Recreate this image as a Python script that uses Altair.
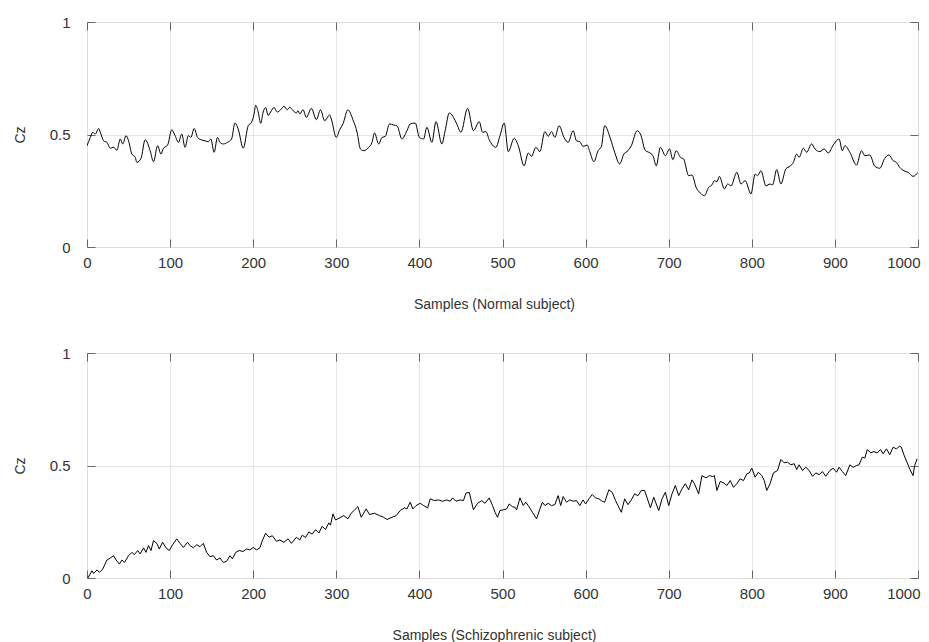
import altair as alt
import pandas as pd

# ---- Normal subject (top panel): sample index and Cz amplitude
normal_sample = [0, 4, 7, 10, 14, 16, 20, 24, 28, 32, 36, 40, 43, 47, 50, 54, 58, 60, 65, 70,
                 76, 80, 85, 89, 92, 97, 102, 106, 110, 114, 118, 122, 125, 129, 133, 137, 142,
                 146, 149, 153, 157, 160, 164, 169, 174, 178, 182, 188, 194, 198, 201, 203, 206,
                 209, 212, 215, 218, 221, 225, 229, 233, 237, 241, 244, 248, 252, 254, 256, 260,
                 264, 270, 276, 281, 286, 292, 294, 300, 304, 308, 314, 320, 325, 329, 333, 339,
                 343, 346, 351, 355, 359, 364, 369, 373, 379, 385, 389, 395, 400, 405, 409, 415,
                 420, 427, 431, 436, 441, 445, 450, 458, 465, 472, 476, 480, 484, 492, 497, 502,
                 507, 514, 519, 526, 531, 535, 540, 545, 551, 555, 559, 563, 568, 574, 579, 585,
                 589, 593, 597, 602, 605, 610, 615, 619, 623, 630, 635, 641, 646, 651, 655, 662,
                 666, 672, 676, 681, 685, 690, 696, 701, 705, 709, 714, 718, 724, 728, 733, 738,
                 743, 748, 752, 755, 758, 761, 767, 771, 775, 782, 787, 792, 799, 804, 807, 811,
                 817, 822, 825, 830, 835, 841, 846, 850, 854, 857, 862, 866, 872, 876, 882, 887,
                 892, 898, 905, 909, 912, 918, 926, 932, 936, 942, 948, 954, 960, 965, 970, 974,
                 978, 983, 988, 994, 1000]
normal_cz = [0.450, 0.487, 0.510, 0.502, 0.527, 0.510, 0.472, 0.465, 0.439, 0.443, 0.430, 0.480,
             0.458, 0.495, 0.472, 0.413, 0.399, 0.376, 0.394, 0.477, 0.428, 0.379, 0.450, 0.413,
             0.439, 0.453, 0.521, 0.495, 0.465, 0.502, 0.443, 0.495, 0.487, 0.527, 0.487, 0.477,
             0.472, 0.468, 0.480, 0.421, 0.487, 0.465, 0.458, 0.465, 0.480, 0.551, 0.524, 0.439,
             0.539, 0.554, 0.590, 0.630, 0.600, 0.550, 0.600, 0.620, 0.585, 0.600, 0.620, 0.600,
             0.610, 0.625, 0.610, 0.621, 0.606, 0.596, 0.606, 0.591, 0.610, 0.576, 0.616, 0.566,
             0.610, 0.561, 0.587, 0.569, 0.487, 0.521, 0.547, 0.610, 0.566, 0.510, 0.436, 0.428,
             0.443, 0.465, 0.507, 0.458, 0.487, 0.492, 0.547, 0.542, 0.539, 0.480, 0.517, 0.547,
             0.551, 0.487, 0.480, 0.532, 0.465, 0.557, 0.458, 0.517, 0.596, 0.576, 0.547, 0.510,
             0.616, 0.517, 0.557, 0.510, 0.513, 0.477, 0.443, 0.495, 0.551, 0.424, 0.483, 0.450,
             0.361, 0.418, 0.403, 0.443, 0.424, 0.513, 0.492, 0.513, 0.487, 0.539, 0.487, 0.465,
             0.517, 0.472, 0.468, 0.447, 0.453, 0.424, 0.379, 0.428, 0.447, 0.539, 0.480, 0.421,
             0.369, 0.413, 0.428, 0.450, 0.517, 0.502, 0.428, 0.421, 0.406, 0.361, 0.443, 0.406,
             0.436, 0.388, 0.428, 0.399, 0.391, 0.317, 0.320, 0.265, 0.240, 0.228, 0.265, 0.276,
             0.295, 0.290, 0.314, 0.258, 0.280, 0.272, 0.332, 0.280, 0.295, 0.236, 0.324, 0.317,
             0.339, 0.272, 0.280, 0.276, 0.344, 0.280, 0.347, 0.359, 0.376, 0.413, 0.399, 0.439,
             0.421, 0.458, 0.436, 0.424, 0.436, 0.418, 0.453, 0.480, 0.428, 0.450, 0.421, 0.364,
             0.428, 0.406, 0.409, 0.359, 0.350, 0.394, 0.409, 0.384, 0.376, 0.354, 0.339, 0.332,
             0.314, 0.332]

# ---- Schizophrenic subject (bottom panel)
schizo_sample = [1, 6, 8, 12, 15, 19, 24, 28, 32, 35, 39, 42, 45, 50, 54, 57, 61, 64, 68, 71,
                 74, 77, 80, 84, 87, 91, 95, 99, 103, 108, 112, 116, 121, 124, 128, 132, 136, 140,
                 144, 148, 152, 156, 160, 164, 168, 172, 175, 179, 183, 188, 192, 196, 200, 204,
                 208, 211, 215, 219, 223, 228, 232, 237, 242, 246, 252, 256, 259, 263, 267, 271,
                 275, 279, 283, 287, 291, 293, 296, 299, 304, 309, 314, 318, 322, 326, 330, 336,
                 340, 346, 352, 357, 361, 367, 372, 377, 382, 385, 389, 392, 396, 401, 405, 410,
                 413, 418, 423, 428, 433, 437, 440, 444, 449, 453, 456, 460, 465, 470, 475, 479,
                 484, 488, 491, 494, 497, 501, 505, 508, 512, 515, 517, 521, 525, 528, 531, 536,
                 541, 545, 548, 551, 555, 559, 563, 567, 570, 573, 577, 581, 585, 589, 593, 597,
                 600, 604, 608, 612, 616, 620, 623, 628, 632, 636, 643, 647, 651, 655, 659, 663,
                 667, 671, 678, 682, 688, 692, 696, 700, 704, 708, 712, 716, 720, 724, 728, 731,
                 736, 740, 745, 749, 753, 755, 758, 762, 766, 770, 774, 778, 782, 786, 790, 794,
                 797, 800, 804, 808, 812, 815, 818, 822, 826, 831, 835, 839, 843, 847, 851, 854,
                 857, 861, 865, 869, 873, 877, 881, 885, 889, 894, 898, 902, 905, 909, 913, 918,
                 922, 926, 929, 933, 936, 939, 943, 947, 951, 955, 958, 962, 966, 970, 974, 978,
                 980, 983, 987, 990, 994, 996, 999]
schizo_cz = [0.000, 0.032, 0.020, 0.036, 0.025, 0.040, 0.080, 0.089, 0.099, 0.080, 0.062, 0.080,
             0.069, 0.099, 0.114, 0.104, 0.122, 0.107, 0.134, 0.114, 0.144, 0.122, 0.166, 0.154,
             0.129, 0.159, 0.134, 0.122, 0.148, 0.174, 0.154, 0.136, 0.159, 0.144, 0.134, 0.148,
             0.139, 0.154, 0.114, 0.095, 0.099, 0.080, 0.089, 0.069, 0.074, 0.099, 0.085, 0.114,
             0.122, 0.118, 0.129, 0.125, 0.136, 0.125, 0.134, 0.166, 0.199, 0.181, 0.188, 0.163,
             0.169, 0.159, 0.174, 0.154, 0.181, 0.169, 0.190, 0.180, 0.205, 0.195, 0.215, 0.200,
             0.230, 0.215, 0.245, 0.235, 0.285, 0.258, 0.267, 0.277, 0.263, 0.288, 0.303, 0.317,
             0.270, 0.307, 0.282, 0.288, 0.277, 0.270, 0.260, 0.270, 0.277, 0.300, 0.312, 0.307,
             0.337, 0.307, 0.322, 0.332, 0.322, 0.312, 0.352, 0.344, 0.347, 0.341, 0.347, 0.341,
             0.356, 0.341, 0.347, 0.344, 0.377, 0.381, 0.303, 0.332, 0.344, 0.332, 0.356, 0.322,
             0.292, 0.270, 0.300, 0.303, 0.307, 0.329, 0.317, 0.314, 0.303, 0.356, 0.322, 0.337,
             0.322, 0.292, 0.263, 0.307, 0.337, 0.322, 0.332, 0.322, 0.326, 0.366, 0.322, 0.362,
             0.337, 0.347, 0.341, 0.344, 0.322, 0.347, 0.329, 0.352, 0.371, 0.356, 0.352, 0.341,
             0.337, 0.392, 0.381, 0.344, 0.292, 0.352, 0.326, 0.347, 0.374, 0.366, 0.389, 0.389,
             0.312, 0.359, 0.300, 0.352, 0.381, 0.322, 0.374, 0.411, 0.366, 0.396, 0.419, 0.392,
             0.436, 0.419, 0.374, 0.455, 0.445, 0.455, 0.451, 0.455, 0.389, 0.429, 0.423, 0.411,
             0.433, 0.403, 0.419, 0.441, 0.433, 0.463, 0.467, 0.488, 0.448, 0.470, 0.455, 0.433,
             0.389, 0.419, 0.467, 0.478, 0.527, 0.512, 0.515, 0.503, 0.508, 0.482, 0.503, 0.478,
             0.492, 0.478, 0.452, 0.467, 0.459, 0.473, 0.452, 0.478, 0.488, 0.470, 0.492, 0.473,
             0.455, 0.503, 0.492, 0.500, 0.503, 0.537, 0.533, 0.571, 0.556, 0.562, 0.556, 0.571,
             0.552, 0.574, 0.548, 0.581, 0.574, 0.586, 0.581, 0.548, 0.512, 0.485, 0.455, 0.500,
             0.530]

x_ticks = [0, 100, 200, 300, 400, 500, 600, 700, 800, 900, 1000]
y_ticks = [0, 0.5, 1]

FONT = "Liberation Sans"
TXT = "#333333"
FRAME = "#666666"
GRID = "#e6e6e6"
W, H = 831, 225
LAST = "datum.value === 1000"


def panel(samples, values, xtitle, interp):
    df = pd.DataFrame({"s": samples, "cz": values})
    xs = alt.Scale(domain=[0, 1000], nice=False, zero=False)
    ys = alt.Scale(domain=[0, 1], nice=False, zero=False)
    base = alt.Chart(df)

    main = base.mark_line(color="black", strokeWidth=1, clip=True, interpolate=interp).encode(
        x=alt.X("s:Q", scale=xs, axis=alt.Axis(
            orient="bottom", values=x_ticks, grid=True, ticks=False, domain=False,
            gridColor={"condition": {"test": "datum.value === 0 || datum.value === 1000",
                                     "value": "transparent"}, "value": GRID},
            labelFlush=False,
            labelAlign={"condition": {"test": LAST, "value": "right"}, "value": "center"},
            labelOffset={"condition": {"test": LAST, "value": 2}, "value": 0},
            labelExpr="datum.value",
            labelPadding=8, labelFontSize=15, labelColor=TXT, labelFont=FONT,
            title=xtitle, titleFontSize=14, titleFontWeight="normal", titleColor=TXT,
            titleFont=FONT, titlePadding=27, titleX=407)),
        y=alt.Y("cz:Q", scale=ys, axis=alt.Axis(
            orient="left", values=y_ticks, grid=True, ticks=False, domain=False,
            gridColor={"condition": {"test": "datum.value === 0 || datum.value === 1",
                                     "value": "transparent"}, "value": GRID},
            labelExpr="datum.value", labelPadding=17, labelFontSize=15, labelColor=TXT,
            labelFont=FONT, title="Cz", titleFontSize=14, titleFontWeight="normal",
            titleColor=TXT, titleFont=FONT, titlePadding=22)),
    )

    ticks_bl = base.mark_line(opacity=0).encode(
        x=alt.X("s:Q", scale=xs, axis=alt.Axis(
            orient="bottom", values=x_ticks, offset=-8, tickSize=8, tickColor=FRAME,
            labels=False, domain=False, grid=False, title=None)),
        y=alt.Y("cz:Q", scale=ys, axis=alt.Axis(
            orient="left", values=y_ticks, offset=-8, tickSize=8, tickColor=FRAME,
            labels=False, domain=False, grid=False, title=None)),
    )
    ticks_tr = base.mark_line(opacity=0).encode(
        x=alt.X("s:Q", scale=xs, axis=alt.Axis(
            orient="top", values=x_ticks, offset=-8, tickSize=8, tickColor=FRAME,
            labels=False, domain=False, grid=False, title=None)),
        y=alt.Y("cz:Q", scale=ys, axis=alt.Axis(
            orient="right", values=y_ticks, offset=-8, tickSize=8, tickColor=FRAME,
            labels=False, domain=False, grid=False, title=None)),
    )
    return alt.layer(main, ticks_bl, ticks_tr).resolve_axis(
        x="independent", y="independent").properties(width=W, height=H)


top = panel(normal_sample, normal_cz, "Samples (Normal subject)", "monotone")
bottom = panel(schizo_sample, schizo_cz, "Samples (Schizophrenic subject)", "linear")

chart = alt.vconcat(top, bottom, spacing=33).properties(
    padding={"left": 4, "top": 6, "right": 0, "bottom": 0}
).configure_view(stroke=FRAME, strokeWidth=1).configure(background="white")

chart.save("out.html", embed_options={"renderer": "svg", "actions": False})
